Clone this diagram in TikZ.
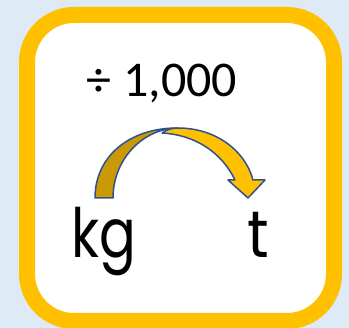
\documentclass[tikz,border=0pt]{standalone}
\usepackage{fontspec}
\setmainfont{Carlito}
\newfontfamily\kidfont{Poppins}
\definecolor{bgblue}{HTML}{DEEBF7}
\definecolor{gold}{HTML}{FFC000}
\definecolor{darkgold}{HTML}{C99A06}
\definecolor{edgeblue}{HTML}{2F528F}
\tikzset{
  frame/.style={draw=gold, line width=16pt, fill=white, rounded corners=47pt},
  band/.style={draw=edgeblue, line width=1.5pt, line join=round},
  lbl/.style={inner sep=0pt, anchor=base, text=black}
}
\begin{document}
\begin{tikzpicture}[x=1pt,y=-1pt]
\fill[bgblue] (0,0) rectangle (349,328);
\useasboundingbox (0,0) rectangle (349,328);
\draw[frame] (27,15) rectangle (334,321);
% curved arrow
\draw[band, fill=darkgold] (95,198) .. controls (95,156) and (130,128) .. (177,128)
  .. controls (142,129) and (113,160) .. (113,198) -- cycle;
\draw[band, fill=gold] (162,133) .. controls (167,129.5) and (172,128) .. (178,128)
  .. controls (215,128) and (245,150) .. (253,180) -- (265,180) -- (248,198) -- (228,180) -- (235,180)
  .. controls (222,153) and (196,135) .. (162,133) -- cycle;
\node[lbl, font=\fontsize{50}{50}\selectfont] (div) at (162,97) {÷ 1,000};
\node[lbl, font=\kidfont\fontsize{68}{68}\selectfont] (kg) at (104,258) {\scalebox{0.8}[1]{kg}};
\node[lbl, font=\kidfont\fontsize{66}{66}\selectfont] (t) at (258,258) {\scalebox{0.9}[1]{t}};
\end{tikzpicture}
\end{document}
